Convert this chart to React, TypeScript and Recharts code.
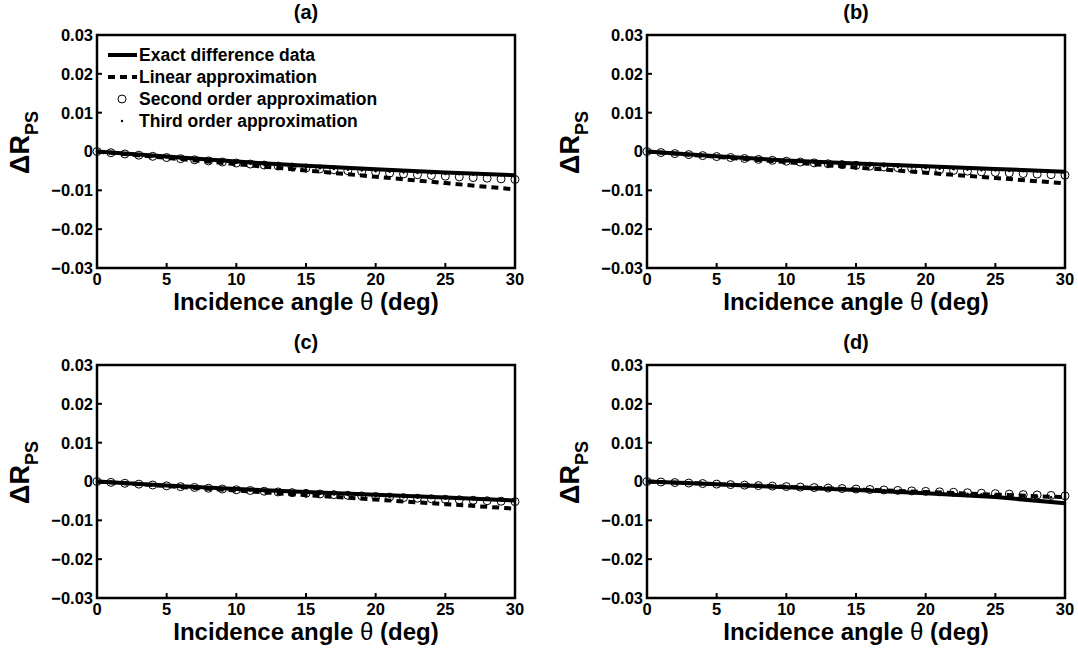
import React from "react";
import { LineChart, Line, XAxis, YAxis, ReferenceArea, Legend } from "recharts";

// incidence angles (deg) where the approximations are sampled
const angles = [0, 1, 2, 3, 4, 5, 6, 7, 8, 9, 10, 11, 12, 13, 14, 15, 16, 17, 18, 19, 20, 21, 22, 23, 24, 25, 26, 27, 28, 29, 30];
// coarser angles for the two line series
const lineAngles = [0, 5, 10, 15, 20, 25, 30];

const xTicks = [0, 5, 10, 15, 20, 25, 30];
const yTicks = [-0.03, -0.02, -0.01, 0, 0.01, 0.02, 0.03];

const panelTitles = ["(a)", "(b)", "(c)", "(d)"];
const seriesNames = ["Exact difference data", "Linear approximation", "Second order approximation", "Third order approximation"];

// (a)
const exactA = [0, -0.0013, -0.0026, -0.0037, -0.0046, -0.0054, -0.0061];
const linearA = [0, -0.00163, -0.00325, -0.00488, -0.0065, -0.00813, -0.00975];
const secondA = [0, -0.00032, -0.00064, -0.00095, -0.00125, -0.00155, -0.00185, -0.00214, -0.00242, -0.0027, -0.00297, -0.00323, -0.00349, -0.00375, -0.004, -0.00424, -0.00448, -0.00471, -0.00493, -0.00515, -0.00537, -0.00558, -0.00578, -0.00598, -0.00617, -0.00636, -0.00654, -0.00671, -0.00688, -0.00705, -0.0072];
const thirdA = [0, -0.00032, -0.00064, -0.00095, -0.00125, -0.00154, -0.00184, -0.00213, -0.0024, -0.00267, -0.00293, -0.00318, -0.00343, -0.00367, -0.0039, -0.00412, -0.00433, -0.00453, -0.00471, -0.0049, -0.00507, -0.00524, -0.00539, -0.00553, -0.00566, -0.00578, -0.00589, -0.00598, -0.00607, -0.00615, -0.0062];

// (b)
const exactB = [0, -0.0012, -0.0023, -0.0031, -0.0038, -0.0045, -0.0052];
const linearB = [0, -0.00137, -0.00273, -0.0041, -0.00546, -0.00683, -0.00819];
const secondB = [0, -0.00027, -0.00054, -0.0008, -0.00106, -0.00131, -0.00155, -0.0018, -0.00204, -0.00227, -0.0025, -0.00272, -0.00294, -0.00316, -0.00337, -0.00357, -0.00377, -0.00397, -0.00416, -0.00435, -0.00453, -0.00471, -0.00488, -0.00505, -0.00522, -0.00538, -0.00553, -0.00568, -0.00583, -0.00597, -0.0061];
const thirdB = [0, -0.00027, -0.00054, -0.0008, -0.00106, -0.00131, -0.00155, -0.00179, -0.00202, -0.00225, -0.00247, -0.00268, -0.00289, -0.00309, -0.00329, -0.00347, -0.00365, -0.00383, -0.00399, -0.00415, -0.00429, -0.00444, -0.00457, -0.00469, -0.00481, -0.00492, -0.00501, -0.0051, -0.00518, -0.00525, -0.0053];

// (c)
const exactC = [0, -0.001, -0.0019, -0.0027, -0.0034, -0.0041, -0.0049];
const linearC = [0, -0.00117, -0.00233, -0.0035, -0.00466, -0.00583, -0.00699];
const secondC = [0, -0.00023, -0.00046, -0.00068, -0.0009, -0.00112, -0.00133, -0.00153, -0.00174, -0.00194, -0.00213, -0.00232, -0.00251, -0.00269, -0.00287, -0.00305, -0.00322, -0.00338, -0.00355, -0.00371, -0.00386, -0.00401, -0.00416, -0.0043, -0.00444, -0.00458, -0.00471, -0.00483, -0.00496, -0.00508, -0.00519];
const thirdC = [0, -0.00023, -0.00046, -0.00068, -0.0009, -0.00112, -0.00133, -0.00153, -0.00173, -0.00193, -0.00212, -0.00231, -0.00249, -0.00267, -0.00284, -0.00301, -0.00317, -0.00333, -0.00348, -0.00363, -0.00377, -0.00391, -0.00404, -0.00417, -0.00429, -0.00441, -0.00451, -0.00461, -0.00472, -0.00481, -0.00489];

// (d)
const exactD = [0, -0.0007, -0.0015, -0.0022, -0.003, -0.004, -0.0056];
const linearD = [0, -0.00068, -0.00135, -0.00203, -0.0027, -0.00338, -0.00405];
const secondD = [0, -0.00013, -0.00027, -0.0004, -0.00053, -0.00067, -0.0008, -0.00093, -0.00106, -0.00118, -0.00131, -0.00144, -0.00156, -0.00169, -0.00181, -0.00194, -0.00206, -0.00218, -0.0023, -0.00242, -0.00254, -0.00266, -0.00278, -0.0029, -0.00302, -0.00313, -0.00325, -0.00336, -0.00347, -0.00359, -0.0037];
const thirdD = [0, -0.00013, -0.00027, -0.0004, -0.00053, -0.00067, -0.0008, -0.00094, -0.00107, -0.00119, -0.00133, -0.00146, -0.00159, -0.00173, -0.00186, -0.002, -0.00214, -0.00227, -0.00241, -0.00255, -0.00269, -0.00283, -0.00298, -0.00313, -0.00328, -0.00342, -0.00358, -0.00372, -0.00388, -0.00404, -0.0042];

const FONT = "'Liberation Sans', Arial, Helvetica, sans-serif";
const DASH = "7 5";

const toPts = (xs: number[], ys: number[]) => xs.map((x, i) => ({ x, y: ys[i] }));

const fmtY = (v: number) => (v === 0 ? "0" : (v < 0 ? "\u2212" : "") + Math.abs(v).toFixed(2));

const noTick = () => <g />;

const YLabel = (props: any) => {
  const vb = props.viewBox || { x: 37, y: 35, width: 60, height: 233 };
  const cx = vb.x + vb.width - 68;
  const cy = vb.y + vb.height / 2 - 9;
  return (
    <text
      transform={`translate(${cx},${cy}) rotate(-90)`}
      textAnchor="middle"
      fontFamily={FONT}
      fontWeight="bold"
      fill="#000"
    >
      <tspan fontSize={27}>ΔR</tspan>
      <tspan fontSize={18} dy={9}>PS</tspan>
    </text>
  );
};

const XLabel = (props: any) => {
  const vb = props.viewBox || { x: 97, y: 268, width: 418, height: 1 };
  return (
    <text
      x={vb.x + vb.width / 2}
      y={vb.y + 42}
      textAnchor="middle"
      fontFamily={FONT}
      fontWeight="bold"
      fontSize={24}
      fill="#000"
    >
      Incidence angle <tspan fontWeight="normal">θ</tspan> (deg)
    </text>
  );
};

const renderLegend = (props: any) => {
  const items = props.payload || [];
  return (
    <div style={{ fontFamily: FONT, fontWeight: "bold", fontSize: 17.5, color: "#000" }}>
      {items.map((entry: any, i: number) => (
        <div key={i} style={{ display: "flex", alignItems: "center", height: 22 }}>
          <svg width={34} height={22} style={{ display: "block" }}>
            {i === 0 && <line x1={3} x2={32} y1={11} y2={11} stroke="#000" strokeWidth={4} />}
            {i === 1 && <line x1={3} x2={32} y1={11} y2={11} stroke="#000" strokeWidth={4} strokeDasharray={DASH} />}
            {i === 2 && <circle cx={17} cy={11} r={4} stroke="#000" strokeWidth={1} fill="none" />}
            {i === 3 && <circle cx={17} cy={11} r={1.2} fill="#000" />}
          </svg>
          <span style={{ whiteSpace: "nowrap" }}>{entry.value}</span>
        </div>
      ))}
    </div>
  );
};

interface PanelProps {
  title: string;
  exact: number[];
  linear: number[];
  second: number[];
  third: number[];
  leftMargin: number;
  rightMargin: number;
  legend?: boolean;
}

function Panel({ title, exact, linear, second, third, leftMargin, rightMargin, legend }: PanelProps) {
  const tickStyle = { fill: "#000", fontSize: 16.5, fontWeight: "bold", fontFamily: FONT };
  return (
    <LineChart width={539} height={325} margin={{ top: 34, right: rightMargin, bottom: 56, left: leftMargin }}>
      <XAxis
        xAxisId="bottom"
        type="number"
        dataKey="x"
        domain={[0, 30]}
        ticks={xTicks}
        height={1}
        axisLine={false}
        tickSize={-5}
        tickMargin={10}
        tickLine={{ stroke: "#000", strokeWidth: 2 }}
        tick={tickStyle}
        label={XLabel}
      />
      <XAxis
        xAxisId="top"
        orientation="top"
        type="number"
        dataKey="x"
        domain={[0, 30]}
        ticks={xTicks}
        height={1}
        axisLine={false}
        tickSize={-5}
        tickLine={{ stroke: "#000", strokeWidth: 2 }}
        tick={noTick}
        label={{
          value: title,
          position: "top",
          offset: 15,
          style: { fill: "#000", fontSize: 20, fontWeight: "bold", fontFamily: FONT },
        }}
      />
      <YAxis
        yAxisId="left"
        type="number"
        domain={[-0.03, 0.03]}
        ticks={yTicks}
        width={60}
        axisLine={false}
        tickSize={-5}
        tickMargin={9}
        tickLine={{ stroke: "#000", strokeWidth: 2 }}
        tick={tickStyle}
        tickFormatter={fmtY}
        label={YLabel}
      />
      <YAxis
        yAxisId="right"
        orientation="right"
        type="number"
        domain={[-0.03, 0.03]}
        ticks={yTicks}
        width={1}
        axisLine={false}
        tickSize={-5}
        tickLine={{ stroke: "#000", strokeWidth: 2 }}
        tick={noTick}
      />
      <ReferenceArea
        xAxisId="bottom"
        yAxisId="left"
        x1={0}
        x2={30}
        y1={-0.03}
        y2={0.03}
        fill="none"
        stroke="#000"
        strokeWidth={2.5}
      />
      <Line
        xAxisId="bottom"
        yAxisId="left"
        name={seriesNames[0]}
        data={toPts(lineAngles, exact)}
        dataKey="y"
        stroke="#000"
        strokeWidth={4}
        dot={false}
        isAnimationActive={false}
      />
      <Line
        xAxisId="bottom"
        yAxisId="left"
        name={seriesNames[1]}
        data={toPts(lineAngles, linear)}
        dataKey="y"
        stroke="#000"
        strokeWidth={4}
        strokeDasharray={DASH}
        dot={false}
        isAnimationActive={false}
      />
      <Line
        xAxisId="bottom"
        yAxisId="left"
        name={seriesNames[2]}
        data={toPts(angles, second)}
        dataKey="y"
        stroke="none"
        dot={{ r: 4, stroke: "#000", strokeWidth: 1, fill: "none" }}
        isAnimationActive={false}
      />
      <Line
        xAxisId="bottom"
        yAxisId="left"
        name={seriesNames[3]}
        data={toPts(angles, third)}
        dataKey="y"
        stroke="none"
        dot={{ r: 1.2, stroke: "none", fill: "#000" }}
        isAnimationActive={false}
      />
      {legend && (
        <Legend
          layout="horizontal"
          align="center"
          verticalAlign="middle"
          content={renderLegend}
          wrapperStyle={{ top: 44, left: 105, width: 320, height: 90 }}
        />
      )}
    </LineChart>
  );
}

export default function App() {
  return (
    <div style={{ position: "absolute", left: 0, top: 0, width: 1078, height: 650, background: "#fff" }}>
      <div style={{ position: "absolute", left: 0, top: 0 }}>
        <Panel title={panelTitles[0]} exact={exactA} linear={linearA} second={secondA} third={thirdA} leftMargin={37} rightMargin={23} legend />
      </div>
      <div style={{ position: "absolute", left: 539, top: 0 }}>
        <Panel title={panelTitles[1]} exact={exactB} linear={linearB} second={secondB} third={thirdB} leftMargin={48} rightMargin={12} />
      </div>
      <div style={{ position: "absolute", left: 0, top: 330 }}>
        <Panel title={panelTitles[2]} exact={exactC} linear={linearC} second={secondC} third={thirdC} leftMargin={37} rightMargin={23} />
      </div>
      <div style={{ position: "absolute", left: 539, top: 330 }}>
        <Panel title={panelTitles[3]} exact={exactD} linear={linearD} second={secondD} third={thirdD} leftMargin={48} rightMargin={12} />
      </div>
    </div>
  );
}
